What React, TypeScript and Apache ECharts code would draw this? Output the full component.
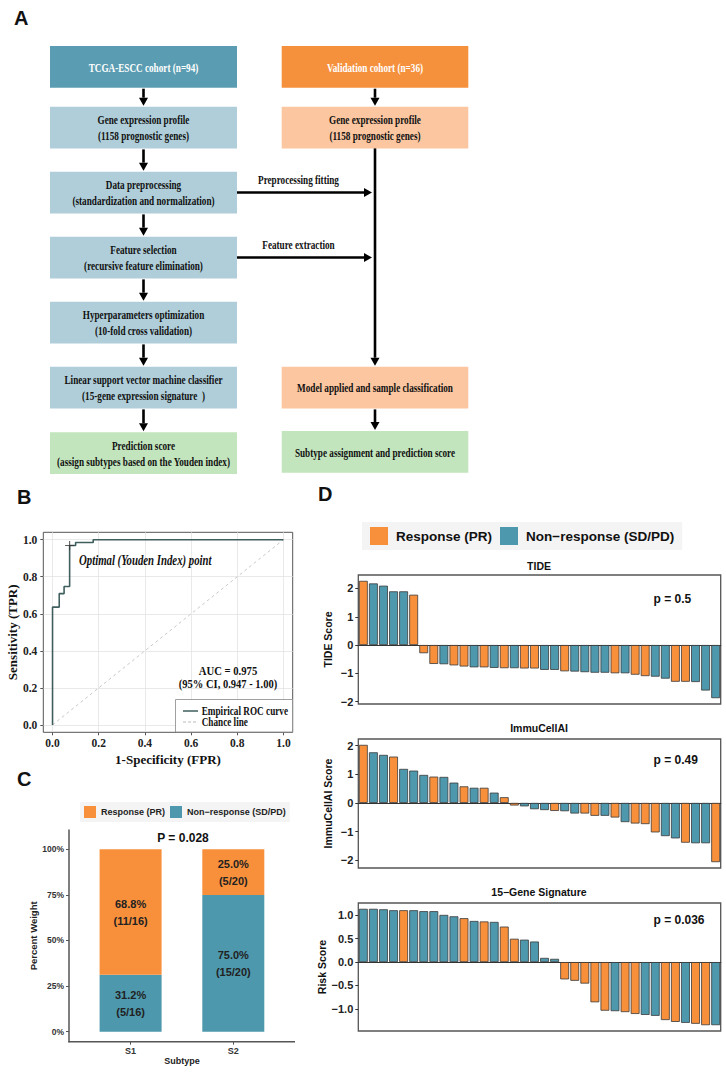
import React, { useEffect, useRef } from 'react';
import * as echarts from 'echarts';

const ORANGE = '#F8903B';
const BLUE = '#4D98AD';
const SERIF = '"Liberation Serif","Times New Roman",serif';
const SANS = '"Liberation Sans",Arial,Helvetica,sans-serif';
const MINUS = '\u2212';

// ---------- Panel A (flowchart text) ----------
const leftFlow = [
  'TCGA-ESCC cohort (n=94)',
  'Gene expression profile\n(1158 prognostic genes)',
  'Data preprocessing\n(standardization and normalization)',
  'Feature selection\n(recursive feature elimination)',
  'Hyperparameters optimization\n(10-fold cross validation)',
  'Linear support vector machine classifier\n(15-gene expression signature  )',
  'Prediction score\n(assign subtypes based on the Youden index)',
];
const rightFlow = [
  'Validation cohort (n=36)',
  'Gene expression profile\n(1158 prognostic genes)',
  'Model applied and sample classification',
  'Subtype assignment and prediction score',
];
const crossLabels = ['Preprocessing fitting', 'Feature extraction'];

// ---------- Panel B (ROC) ----------
const rocFpr = [0, 0, 0.029, 0.029, 0.05, 0.05, 0.074, 0.074, 0.1, 0.1, 0.176, 0.176, 1];
const rocTpr = [0, 0.636, 0.636, 0.709, 0.709, 0.747, 0.747, 0.969, 0.969, 0.985, 0.985, 1, 1];
const chanceFpr = [0, 1];
const chanceTpr = [0, 1];
const youden = [0.074, 0.969];
const rocTicks = [0, 0.2, 0.4, 0.6, 0.8, 1.0];

// ---------- Panel C ----------
const subtypes = ['S1', 'S2'];
const responsePct = [0.688, 0.25];
const nonResponsePct = [0.312, 0.75];
const responseFrac = ['11/16', '5/20'];
const nonResponseFrac = ['5/16', '15/20'];
const pctTicks = [0, 0.25, 0.5, 0.75, 1];

// ---------- Panel D ----------
const tideVals = [2.27, 2.18, 2.10, 1.90, 1.90, 1.78, -0.29, -0.67, -0.68, -0.72, -0.76, -0.79, -0.79, -0.81, -0.82, -0.82, -0.83, -0.83, -0.88, -0.88, -0.93, -0.94, -0.96, -0.98, -0.98, -1.00, -1.00, -1.05, -1.10, -1.12, -1.19, -1.30, -1.30, -1.31, -1.61, -1.88];
const tideGroup = 'RNNNNRRRNRRNRNRNRRNNRNNNNRNRRNNRRNNN'.split('');
const immuVals = [2.03, 1.77, 1.68, 1.62, 1.19, 1.13, 0.98, 0.92, 0.91, 0.71, 0.58, 0.53, 0.53, 0.36, 0.20, -0.09, -0.12, -0.22, -0.25, -0.28, -0.29, -0.37, -0.37, -0.45, -0.45, -0.51, -0.67, -0.72, -0.74, -1.03, -1.16, -1.24, -1.39, -1.41, -1.41, -2.07];
const immuGroup = 'RNNRNNNRNNRNRNRRNNNRNNRRNRNRRRNNRNNR'.split('');
const riskVals = [1.14, 1.14, 1.13, 1.11, 1.11, 1.11, 1.09, 1.09, 1.01, 0.98, 0.94, 0.88, 0.87, 0.86, 0.76, 0.50, 0.48, 0.44, 0.09, 0.07, -0.37, -0.40, -0.46, -0.86, -1.04, -1.05, -1.07, -1.11, -1.13, -1.15, -1.24, -1.28, -1.30, -1.32, -1.35, -1.35];
const riskGroup = 'NNNNRNNNNNRNRNRRNNNNRRRRRNRRNNRRNRRN'.split('');
const tideTicks = [-2, -1, 0, 1, 2];
const immuTicks = [-2, -1, 0, 1, 2];
const riskTicks = [-1, -0.5, 0, 0.5, 1];
const dTitles = ['TIDE', 'ImmuCellAI', '15' + MINUS + 'Gene Signature'];
const dPvals = ['p = 0.5', 'p = 0.49', 'p = 0.036'];
const dYNames = ['TIDE Score', 'ImmuCellAI Score', 'Risk Score'];

const RESP = 'Response (PR)';
const NONRESP = 'Non' + MINUS + 'response (SD/PD)';

function txt(x: number, y: number, text: string, o: any = {}) {
  return {
    type: 'text', x, y, z: 100, scaleX: o.scaleX ?? 1,
    style: {
      text, fill: o.fill ?? '#111', fontSize: o.size ?? 12, fontWeight: o.weight ?? 'bold',
      fontFamily: o.family ?? SANS, fontStyle: o.style ?? 'normal',
      align: o.align ?? 'center', verticalAlign: o.valign ?? 'middle', lineHeight: o.lh ?? 16,
    },
  };
}

function arrow(x1: number, y1: number, x2: number, y2: number) {
  const len = Math.hypot(x2 - x1, y2 - y1);
  const ux = (x2 - x1) / len, uy = (y2 - y1) / len;
  const hl = 8, hw = 4.5;
  const bx = x2 - ux * hl, by = y2 - uy * hl;
  return [
    { type: 'line', z: 100, shape: { x1, y1, x2: bx, y2: by }, style: { stroke: '#000', lineWidth: 2.6 } },
    {
      type: 'polygon', z: 100,
      shape: { points: [[x2, y2], [bx - uy * hw, by + ux * hw], [bx + uy * hw, by - ux * hw]] },
      style: { fill: '#000' },
    },
  ];
}

function expandRange(v: number[]) {
  const lo = Math.min(0, ...v), hi = Math.max(0, ...v);
  const pad = (hi - lo) * 0.05;
  return [lo - pad, hi + pad];
}

function fmtMinus(v: number, dec: number) {
  const s = dec > 0 ? v.toFixed(dec) : String(Math.round(v));
  return s.replace('-', MINUS);
}

export default function App() {
  const ref = useRef<HTMLDivElement>(null);
  useEffect(() => {
    document.body.style.margin = '0';
    const chart = echarts.init(ref.current!, null, { renderer: 'svg' });

    // ---- flowchart graphic ----
    const LX = 50, LW = 187, RX = 281.7, RW = 186.6, BH = 41.7;
    const leftTop = [46, 106.7, 171.7, 236.7, 301.7, 366.7, 432.3];
    const rightTop = [46, 106.7, 366.7, 431];
    const leftFill = ['#5A9CB1', '#AFCED9', '#AFCED9', '#AFCED9', '#AFCED9', '#AFCED9', '#C3E5BD'];
    const rightFill = ['#F5913D', '#FBC6A0', '#FBC6A0', '#C3E5BD'];
    const g: any[] = [];
    const FS = 13.5, SX = 0.68;
    leftFlow.forEach((t, i) => {
      g.push({ type: 'rect', z: 99, shape: { x: LX, y: leftTop[i], width: LW, height: BH }, style: { fill: leftFill[i] } });
      g.push(txt(LX + LW / 2, leftTop[i] + BH / 2, t, { family: SERIF, size: FS, scaleX: SX, fill: i === 0 ? '#fff' : '#111' }));
    });
    rightFlow.forEach((t, i) => {
      g.push({ type: 'rect', z: 99, shape: { x: RX, y: rightTop[i], width: RW, height: BH }, style: { fill: rightFill[i] } });
      g.push(txt(RX + RW / 2, rightTop[i] + BH / 2, t, { family: SERIF, size: FS, scaleX: SX, fill: i === 0 ? '#fff' : '#111' }));
    });
    const lcx = LX + LW / 2, rcx = RX + RW / 2;
    for (let i = 0; i < leftTop.length - 1; i++) g.push(...arrow(lcx, leftTop[i] + BH + 1, lcx, leftTop[i + 1] - 1));
    g.push(...arrow(rcx, rightTop[0] + BH + 1, rcx, rightTop[1] - 1));
    g.push(...arrow(rcx, rightTop[1] + BH, rcx, rightTop[2] - 1));
    g.push(...arrow(rcx, rightTop[2] + BH + 1, rcx, rightTop[3] - 1));
    [2, 3].forEach((bi, k) => {
      const y = leftTop[bi] + BH / 2;
      g.push(...arrow(LX + LW, y, rcx - 3, y));
      g.push(txt(298.5, y - 13.5, crossLabels[k], { family: SERIF, size: FS, scaleX: SX }));
    });

    // panel letters
    g.push(txt(14, 10, 'A', { size: 20, align: 'left', valign: 'top' }));
    g.push(txt(17, 489, 'B', { size: 20, align: 'left', valign: 'top' }));
    g.push(txt(17, 771, 'C', { size: 20, align: 'left', valign: 'top' }));
    g.push(txt(318, 486, 'D', { size: 20, align: 'left', valign: 'top' }));

    // ROC annotations
    g.push(txt(79, 561, 'Optimal (Youden Index) point', { family: SERIF, size: 14, scaleX: 0.77, style: 'italic', align: 'left' }));
    g.push(txt(228, 671, 'AUC = 0.975', { family: SERIF, size: 13.5, scaleX: 0.79 }));
    g.push(txt(228, 684, '(95% CI, 0.947 - 1.00)', { family: SERIF, size: 13, scaleX: 0.81 }));
    g.push({ type: 'rect', z: 98, shape: { x: 175.5, y: 699.5, width: 117, height: 32.5 }, style: { fill: '#fff', stroke: '#888', lineWidth: 0.8 } });
    g.push({ type: 'line', z: 100, shape: { x1: 183, y1: 711, x2: 198, y2: 711 }, style: { stroke: '#3F5E5E', lineWidth: 1.5 } });
    g.push({ type: 'line', z: 100, shape: { x1: 183, y1: 722, x2: 198, y2: 722 }, style: { stroke: '#bbb', lineWidth: 1, lineDash: [3, 2] } });
    g.push(txt(201.7, 711, 'Empirical ROC curve', { family: SERIF, size: 11.5, scaleX: 0.8, align: 'left' }));
    g.push(txt(201.7, 722, 'Chance line', { family: SERIF, size: 11.5, scaleX: 0.8, align: 'left' }));

    // Panel C p value and full-width x axis line
    g.push(txt(183, 838, 'P = 0.028', { size: 12 }));
    g.push({ type: 'line', z: 100, shape: { x1: 68.3, y1: 1041.7, x2: 295, y2: 1041.7 }, style: { stroke: '#555', lineWidth: 1.5 } });

    // Panel D titles / p values
    const dTitleY = [565.7, 728.3, 891.7];
    const dPY = [599, 760, 920];
    dTitles.forEach((t, i) => {
      g.push(txt(539, dTitleY[i], t, { size: 10.5 }));
      g.push(txt(653.5, dPY[i], dPvals[i], { size: 12, align: 'left' }));
    });

    const dGrids = [
      { top: 575, height: 129 },
      { top: 739, height: 129 },
      { top: 903, height: 128 },
    ];
    const dVals = [tideVals, immuVals, riskVals];
    const dGroups = [tideGroup, immuGroup, riskGroup];
    const dTicks = [tideTicks, immuTicks, riskTicks];
    const dDec = [0, 0, 1];
    const samples = tideVals.map((_, i) => 'P' + (i + 1));

    const axisTextSerif = { fontFamily: SERIF, fontWeight: 'bold', fontSize: 11.5, color: '#222' };

    const xAxis: any[] = [
      {
        gridIndex: 0, type: 'value', min: -0.04, max: 1.04,
        axisLine: { show: false, onZero: false },
        axisTick: { show: true, length: 3, customValues: rocTicks, lineStyle: { color: '#555' } },
        axisLabel: { customValues: rocTicks, formatter: (v: number) => v.toFixed(1), margin: 5, ...axisTextSerif },
        splitLine: { show: true, lineStyle: { color: '#e3e3e3', width: 0.8 } },
        name: '1-Specificity (FPR)', nameLocation: 'middle', nameGap: 21,
        nameTextStyle: { fontFamily: SERIF, fontWeight: 'bold', fontSize: 13, color: '#111' },
      },
      {
        gridIndex: 1, type: 'category', data: subtypes,
        axisLine: { show: false, onZero: false },
        axisTick: { show: true, length: 3, alignWithLabel: true, lineStyle: { color: '#555' } },
        axisLabel: { margin: 5, fontFamily: SANS, fontWeight: 'bold', fontSize: 9, color: '#333' },
        splitLine: { show: false },
        name: 'Subtype', nameLocation: 'middle', nameGap: 14,
        nameTextStyle: { fontFamily: SANS, fontWeight: 'bold', fontSize: 9, color: '#222' },
      },
    ];
    const yAxis: any[] = [
      {
        gridIndex: 0, type: 'value', min: -0.04, max: 1.04,
        axisLine: { show: false, onZero: false },
        axisTick: { show: true, length: 3, customValues: rocTicks, lineStyle: { color: '#555' } },
        axisLabel: { customValues: rocTicks, formatter: (v: number) => v.toFixed(1), margin: 6, ...axisTextSerif },
        splitLine: { show: true, lineStyle: { color: '#e3e3e3', width: 0.8 } },
        name: 'Sensitivity (TPR)', nameLocation: 'middle', nameGap: 24,
        nameTextStyle: { fontFamily: SERIF, fontWeight: 'bold', fontSize: 13, color: '#111' },
      },
      {
        gridIndex: 1, type: 'value', min: -0.055, max: 1.106, offset: 10.25,
        axisLine: { show: true, onZero: false, lineStyle: { color: '#555', width: 1.5 } },
        axisTick: { show: true, length: 3, customValues: pctTicks, lineStyle: { color: '#555' } },
        axisLabel: { customValues: pctTicks, formatter: (v: number) => Math.round(v * 100) + '%', margin: 5, fontFamily: SANS, fontWeight: 'bold', fontSize: 8.5, color: '#333' },
        splitLine: { show: false },
        name: 'Percent Weight', nameLocation: 'middle', nameGap: 29,
        nameTextStyle: { fontFamily: SANS, fontWeight: 'bold', fontSize: 9.5, color: '#222' },
      },
    ];
    const grid: any[] = [
      { left: 43.3, top: 532.3, width: 249.4, height: 200, show: true, borderColor: '#555', borderWidth: 1, backgroundColor: 'transparent' },
      { left: 79.25, top: 830, width: 205.4, height: 211.7, show: false },
    ];
    const cLabel = (pct: number[], frac: string[]) => ({
      show: true, position: 'inside', fontFamily: SANS, fontWeight: 'bold', fontSize: 11, color: '#222', lineHeight: 17,
      formatter: (p: any) => (pct[p.dataIndex] * 100).toFixed(1) + '%\n(' + frac[p.dataIndex] + ')',
    });
    const series: any[] = [
      {
        type: 'line', xAxisIndex: 0, yAxisIndex: 0, name: 'Empirical ROC curve',
        data: rocFpr.map((x, i) => [x, rocTpr[i]]), showSymbol: false, symbol: 'none',
        lineStyle: { color: '#3F5E5E', width: 1.6 }, z: 4,
      },
      {
        type: 'line', xAxisIndex: 0, yAxisIndex: 0, name: 'Chance line',
        data: chanceFpr.map((x, i) => [x, chanceTpr[i]]), showSymbol: false, symbol: 'none',
        lineStyle: { color: '#c8c8c8', width: 1, type: [3, 3] }, z: 3,
      },
      {
        type: 'scatter', xAxisIndex: 0, yAxisIndex: 0, name: 'Optimal point',
        data: [youden], symbol: 'path://M0 4.4H10V5.6H0Z M4.4 0H5.6V10H4.4Z', symbolSize: 9,
        itemStyle: { color: '#333' }, z: 5,
      },
      {
        type: 'bar', name: NONRESP, xAxisIndex: 1, yAxisIndex: 1, stack: 'c', barWidth: 62,
        data: nonResponsePct, itemStyle: { color: BLUE }, label: cLabel(nonResponsePct, nonResponseFrac),
      },
      {
        type: 'bar', name: RESP, xAxisIndex: 1, yAxisIndex: 1, stack: 'c', barWidth: 62,
        data: responsePct, itemStyle: { color: ORANGE }, label: cLabel(responsePct, responseFrac),
      },
    ];

    dGrids.forEach((dg, k) => {
      const gi = k + 2;
      grid.push({ left: 358.3, top: dg.top, width: 362.4, height: dg.height, show: true, borderColor: '#555', borderWidth: 1.3, backgroundColor: 'transparent' });
      const [mn, mx] = expandRange(dVals[k]);
      xAxis.push({
        gridIndex: gi, type: 'category', data: samples,
        axisLine: { show: true, onZero: true, lineStyle: { color: '#333', width: 1.2 } },
        axisTick: { show: false }, axisLabel: { show: false }, splitLine: { show: false },
      });
      yAxis.push({
        gridIndex: gi, type: 'value', min: mn, max: mx,
        axisLine: { show: false, onZero: false },
        axisTick: { show: true, length: 3, customValues: dTicks[k], lineStyle: { color: '#333' } },
        axisLabel: {
          customValues: dTicks[k], formatter: (v: number) => fmtMinus(v, dDec[k]), margin: 5,
          fontFamily: SANS, fontWeight: 'bold', fontSize: 11, color: '#222',
        },
        splitLine: { show: false },
        name: dYNames[k], nameLocation: 'middle', nameGap: 25,
        nameTextStyle: { fontFamily: SANS, fontWeight: 'bold', fontSize: 10.5, color: '#111' },
      });
      const mk = (grp: string, name: string, color: string) => ({
        type: 'bar', name, xAxisIndex: gi, yAxisIndex: gi, barWidth: '88%', barGap: '-100%',
        data: dVals[k].map((v, i) => (dGroups[k][i] === grp ? v : '-')),
        itemStyle: { color, borderColor: '#3a3a3a', borderWidth: 0.8 },
      });
      series.push(mk('R', RESP, ORANGE));
      series.push(mk('N', NONRESP, BLUE));
    });

    const option: any = {
      animation: false,
      backgroundColor: '#ffffff',
      textStyle: { fontFamily: SANS },
      grid, xAxis, yAxis, series,
      legend: [
        {
          data: [RESP, NONRESP], left: 80, top: 802, orient: 'horizontal', icon: 'rect',
          itemWidth: 12, itemHeight: 12, itemGap: 5, padding: [4, 4], backgroundColor: '#F4F4F4',
          itemStyle: { borderWidth: 0 }, selectedMode: false,
          textStyle: { fontFamily: SANS, fontWeight: 'bold', fontSize: 9, color: '#222' },
        },
        {
          data: [RESP, NONRESP], left: 362, top: 522, orient: 'horizontal', icon: 'rect',
          itemWidth: 18, itemHeight: 18, itemGap: 8, padding: [5, 8], backgroundColor: '#F4F4F4',
          itemStyle: { borderWidth: 0 }, selectedMode: false,
          textStyle: { fontFamily: SANS, fontWeight: 'bold', fontSize: 13.5, color: '#111', padding: [0, 0, 0, 3] },
        },
      ],
      graphic: { elements: g },
    };
    chart.setOption(option);
    return () => chart.dispose();
  }, []);
  return <div ref={ref} style={{ width: 726, height: 1073 }} />;
}
